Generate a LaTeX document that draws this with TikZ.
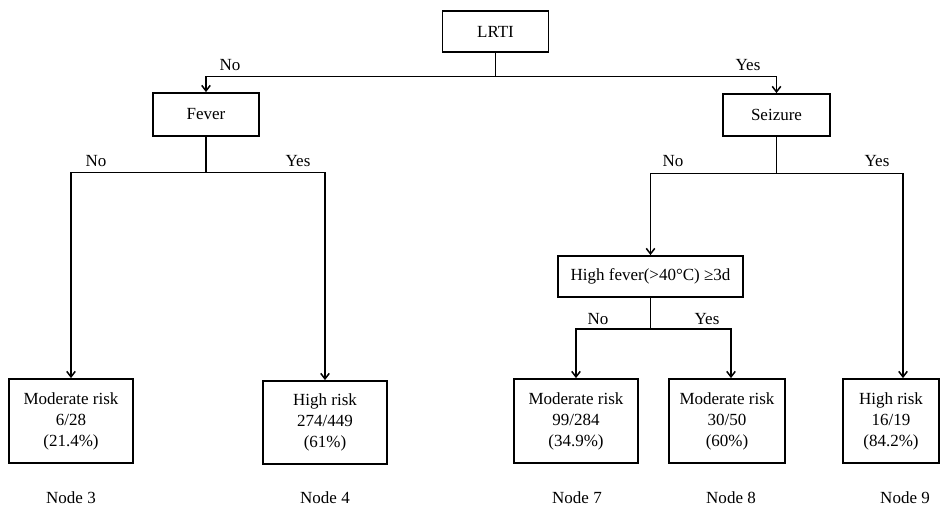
\documentclass[tikz,border=0pt]{standalone}
\usepackage{fontspec}
\setmainfont{Liberation Serif}
\usetikzlibrary{arrows.meta}
\begin{document}
\begin{tikzpicture}[x=1pt,y=-1pt,
  box/.style={draw, line width=1.8pt, inner sep=0pt, align=center,
    font=\fontsize{17}{21}\selectfont},
  conn/.style={line width=1.5pt},
  arr/.style={conn, -{Straight Barb[length=5.5pt,width=8.5pt,line width=1.5pt]}},
  lbl/.style={anchor=base, inner sep=0pt, font=\fontsize{17}{21}\selectfont}]
\useasboundingbox (0,0) rectangle (952,510);

% decision boxes
\node[box, minimum width=106pt, minimum height=41pt] (lrti) at (495.5,31.5) {LRTI};
\node[box, minimum width=106pt, minimum height=43pt] (fever) at (206,114.5) {Fever};
\node[box, minimum width=107pt, minimum height=42pt] (seiz) at (776.5,115) {Seizure};
\node[box, minimum width=185pt, minimum height=41pt] (hf) at (650.5,276.5) {High fever(>40°C) ≥3d};

% terminal boxes
\node[box, minimum width=124pt, minimum height=84pt] (n3) at (71,421) {Moderate risk\\6/28\\(21.4\%)};
\node[box, minimum width=124pt, minimum height=83pt] (n4) at (325,422.5) {High risk\\274/449\\(61\%)};
\node[box, minimum width=124pt, minimum height=84pt] (n7) at (576,421) {Moderate risk\\99/284\\(34.9\%)};
\node[box, minimum width=116pt, minimum height=84pt] (n8) at (727,421) {Moderate risk\\30/50\\(60\%)};
\node[box, minimum width=96pt, minimum height=84pt] (n9) at (891,421) {High risk\\16/19\\(84.2\%)};

% split points and entry points
\coordinate (s1) at (495.5,76.5);
\coordinate (s2) at (206,172.5);
\coordinate (s3) at (776.5,173.5);
\coordinate (s4) at (650.5,329);
\coordinate (n9in) at ([xshift=12pt]n9.north);
\coordinate (n8in) at ([xshift=4pt]n8.north);

% connectors
\draw[conn] (lrti.south) -- (s1);
\draw[arr] (s1) -| (fever.north);
\draw[arr] (s1) -| (seiz.north);
\draw[conn] (fever.south) -- (s2);
\draw[arr] (s2) -| (n3.north);
\draw[arr] (s2) -| (n4.north);
\draw[conn] (seiz.south) -- (s3);
\draw[arr] (s3) -| (hf.north);
\draw[arr] (s3) -| (n9in);
\draw[conn] (hf.south) -- (s4);
\draw[arr] (s4) -| (n7.north);
\draw[arr] (s4) -| (n8in);

% branch labels
\node[lbl] (l1) at (230,71) {No};
\node[lbl] (l2) at (748,71) {Yes};
\node[lbl] (l3) at (96,167) {No};
\node[lbl] (l4) at (298,167) {Yes};
\node[lbl] (l5) at (673,167) {No};
\node[lbl] (l6) at (877,167) {Yes};
\node[lbl] (l7) at (598,324) {No};
\node[lbl] (l8) at (707,324) {Yes};

% node numbers
\node[lbl] (c3) at (71,503) {Node 3};
\node[lbl] (c4) at (325,503) {Node 4};
\node[lbl] (c7) at (577,503) {Node 7};
\node[lbl] (c8) at (731,503) {Node 8};
\node[lbl] (c9) at (905,503) {Node 9};
\end{tikzpicture}
\end{document}
